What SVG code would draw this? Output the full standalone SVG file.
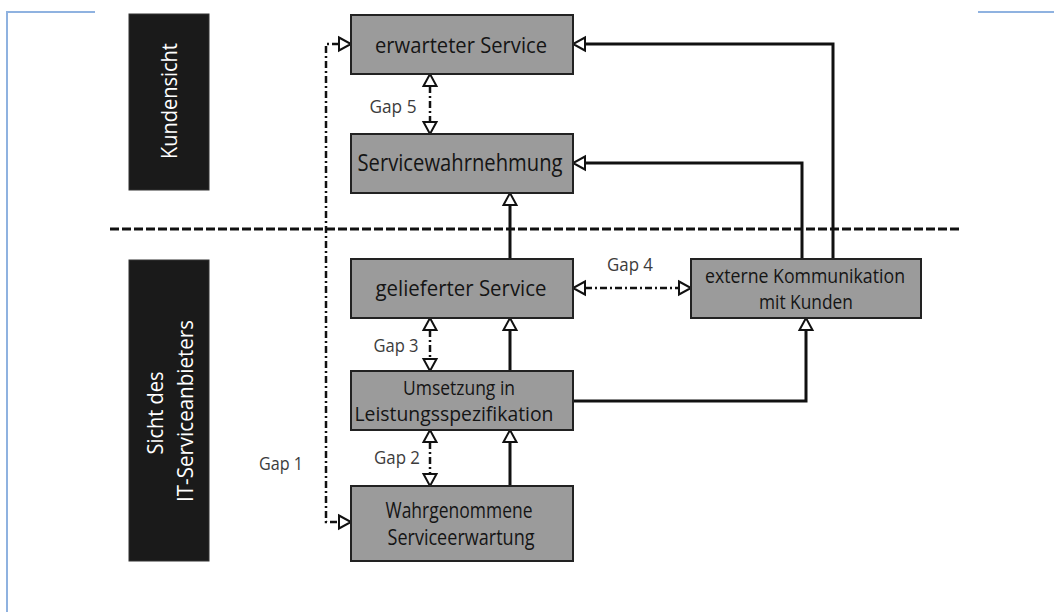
<svg xmlns="http://www.w3.org/2000/svg" width="1054" height="612" viewBox="0 0 1054 612">
<style>
.frame{fill:none;stroke:#8fb2e0;stroke-width:2}
.bar{fill:#1a1a1a;stroke:#333;stroke-width:1}
.bartxt{fill:#ffffff;font-family:"Open Sans","Noto Sans",sans-serif;font-size:22px;text-anchor:middle}
.box{fill:#9b9b9b;stroke:#222;stroke-width:2}
.btxt{fill:#151515;font-family:"Open Sans","Noto Sans",sans-serif;text-anchor:middle}
.gap{fill:#3c3c3c;font-family:"Open Sans","Noto Sans",sans-serif;font-size:19px;text-anchor:middle}
.solid{fill:none;stroke:#111;stroke-width:3;marker-end:url(#tri)}
.dd{fill:none;stroke:#111;stroke-width:2.5;stroke-dasharray:7 3 2 3;marker-start:url(#tri);marker-end:url(#tri)}
.sep{fill:none;stroke:#111;stroke-width:3;stroke-dasharray:9 3}
</style>
<defs>
<marker id="tri" markerUnits="userSpaceOnUse" viewBox="-2 -9 17 18" markerWidth="17" markerHeight="18" refX="0" refY="0" orient="auto-start-reverse">
<path d="M0,-6.5 L12,0 L0,6.5 Z" fill="#fff" stroke="#111" stroke-width="2" stroke-linejoin="miter"/>
</marker>
</defs>
<rect width="1054" height="612" fill="#ffffff"/>
<path class="frame" d="M95,12 H7 V612"/>
<path class="frame" d="M978,12 H1054"/>

<g id="kundensicht">
<rect class="bar" x="129" y="14" width="80" height="176"/>
<text class="bartxt" transform="translate(177,101) rotate(-90)" textLength="116" lengthAdjust="spacingAndGlyphs">Kundensicht</text>
</g>
<g id="anbieter">
<rect class="bar" x="129" y="260" width="80" height="301"/>
<text class="bartxt" transform="translate(163,413) rotate(-90)" textLength="83" lengthAdjust="spacingAndGlyphs">Sicht des</text>
<text class="bartxt" transform="translate(193,411) rotate(-90)" textLength="182" lengthAdjust="spacingAndGlyphs">IT-Serviceanbieters</text>
</g>

<path class="sep" d="M110,229 H960"/>

<g id="connectors">
<path class="solid" d="M833,259 V44 H585"/>
<path class="solid" d="M802,259 V163 H585"/>
<path class="solid" d="M573,401 H806 V330"/>
<path class="solid" d="M510,259 V205"/>
<path class="solid" d="M510,371 V330"/>
<path class="solid" d="M510,486 V442"/>
<path class="dd" d="M430,86 V122"/>
<path class="dd" d="M430,330 V359"/>
<path class="dd" d="M430,442 V474"/>
<path class="dd" d="M585,288 H679"/>
<path class="dd" d="M339,44 H326 V522 H339"/>
<text class="gap" x="393" y="113" textLength="47" lengthAdjust="spacingAndGlyphs">Gap 5</text>
<text class="gap" x="630" y="271" textLength="46" lengthAdjust="spacingAndGlyphs">Gap 4</text>
<text class="gap" x="396" y="352" textLength="45" lengthAdjust="spacingAndGlyphs">Gap 3</text>
<text class="gap" x="397" y="464" textLength="46" lengthAdjust="spacingAndGlyphs">Gap 2</text>
<text class="gap" x="281" y="470" textLength="44" lengthAdjust="spacingAndGlyphs">Gap 1</text>
</g>

<g id="erwartet">
<rect class="box" x="351" y="15" width="222" height="59"/>
<text class="btxt" x="461" y="53" font-size="22" textLength="172" lengthAdjust="spacingAndGlyphs">erwarteter Service</text>
</g>
<g id="wahrnehmung">
<rect class="box" x="351" y="134" width="222" height="59"/>
<text class="btxt" x="460" y="171" font-size="23" textLength="205" lengthAdjust="spacingAndGlyphs">Servicewahrnehmung</text>
</g>
<g id="geliefert">
<rect class="box" x="351" y="259" width="222" height="59"/>
<text class="btxt" x="461" y="296" font-size="22" textLength="171" lengthAdjust="spacingAndGlyphs">gelieferter Service</text>
</g>
<g id="umsetzung">
<rect class="box" x="351" y="371" width="222" height="59"/>
<text class="btxt" x="459" y="395" font-size="20" textLength="112" lengthAdjust="spacingAndGlyphs">Umsetzung in</text>
<text class="btxt" x="454" y="421" font-size="20" textLength="199" lengthAdjust="spacingAndGlyphs">Leistungsspezifikation</text>
</g>
<g id="wahrgenommen">
<rect class="box" x="351" y="486" width="222" height="75"/>
<text class="btxt" x="459" y="518" font-size="21" textLength="147" lengthAdjust="spacingAndGlyphs">Wahrgenommene</text>
<text class="btxt" x="461" y="545" font-size="21" textLength="147" lengthAdjust="spacingAndGlyphs">Serviceerwartung</text>
</g>
<g id="extern">
<rect class="box" x="691" y="259" width="230" height="59"/>
<text class="btxt" x="805" y="283" font-size="20" textLength="200" lengthAdjust="spacingAndGlyphs">externe Kommunikation</text>
<text class="btxt" x="806" y="309" font-size="20" textLength="94" lengthAdjust="spacingAndGlyphs">mit Kunden</text>
</g>
</svg>
